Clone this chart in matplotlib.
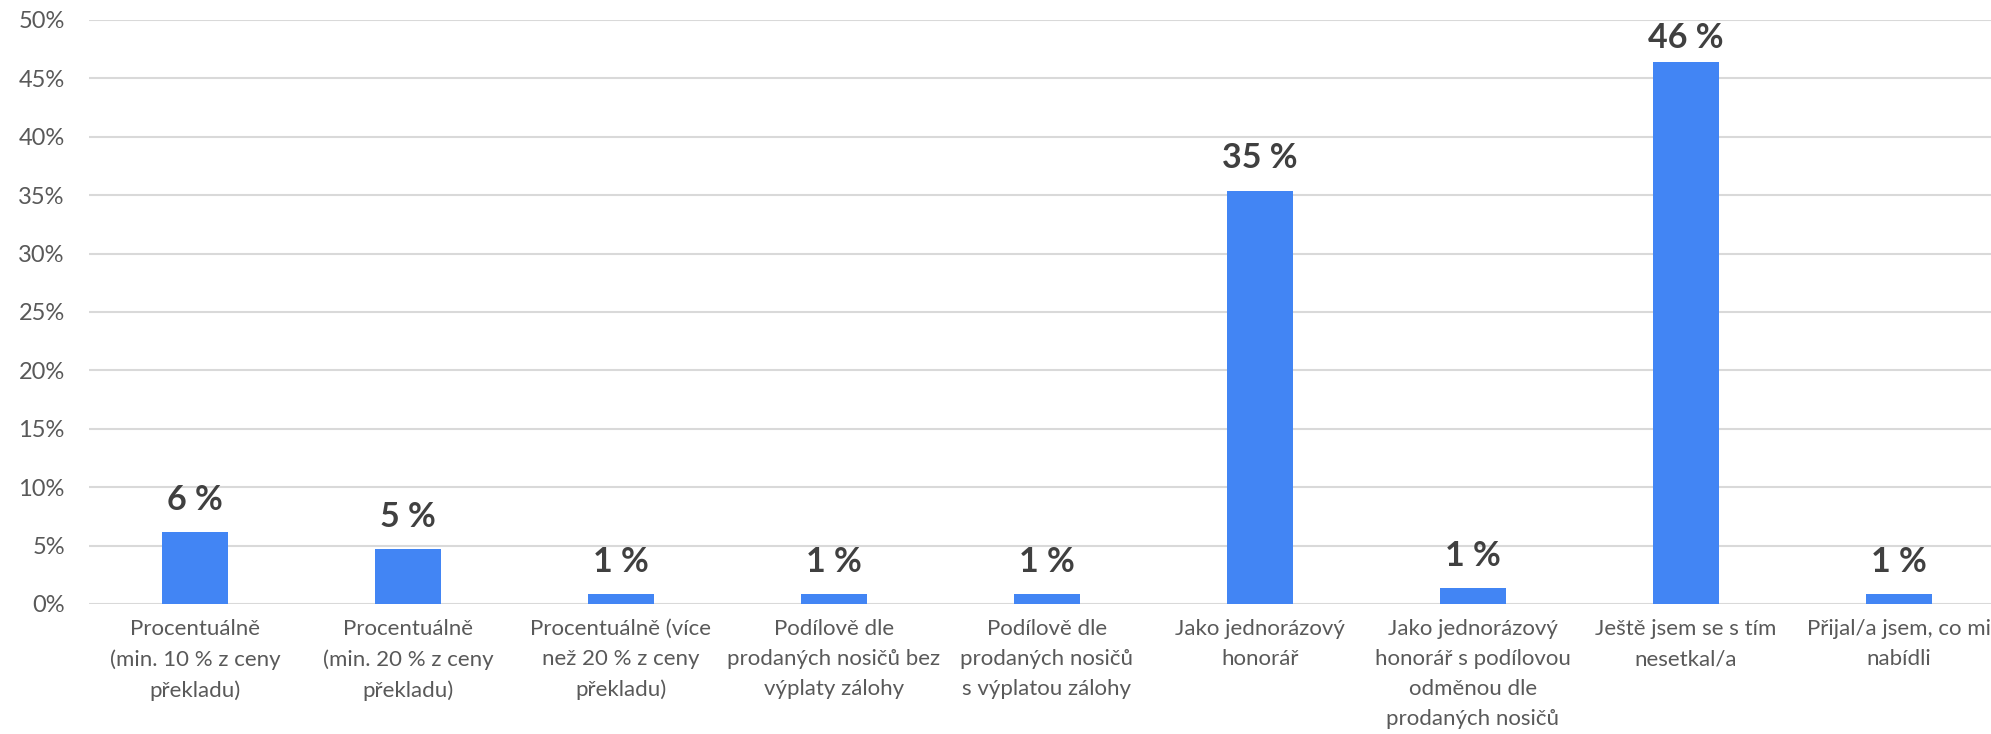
"""Bar chart: podoba odměny za překlad (re-creation)."""

import matplotlib.pyplot as plt
from matplotlib.ticker import PercentFormatter

plt.switch_backend("Agg")

categories = [
    "Procentuálně\n(min. 10 % z ceny\npřekladu)",
    "Procentuálně\n(min. 20 % z ceny\npřekladu)",
    "Procentuálně (více\nnež 20 % z ceny\npřekladu)",
    "Podílově dle\nprodaných nosičů bez\nvýplaty zálohy",
    "Podílově dle\nprodaných nosičů\ns výplatou zálohy",
    "Jako jednorázový\nhonorář",
    "Jako jednorázový\nhonorář s podílovou\nodměnou dle\nprodaných nosičů",
    "Ještě jsem se s tím\nnesetkal/a",
    "Přijal/a jsem, co mi\nnabídli",
]
shares = [0.0614, 0.047, 0.0088, 0.0088, 0.0088, 0.354, 0.0137, 0.464, 0.0086]
y_ticks = [0.0, 0.05, 0.10, 0.15, 0.20, 0.25, 0.30, 0.35, 0.40, 0.45, 0.50]

BAR = "#4285F4"
GRID = "#D9D9D9"
TICK = "#595959"
LABEL = "#404040"

plt.rcParams["font.family"] = ["Lato", "DejaVu Sans"]

fig = plt.figure(figsize=(19.91, 7.34), dpi=100)
# axis runs past the right edge, like the cropped original
ax = fig.add_axes((88.5 / 1991, 130 / 734, 1917 / 1991, 584 / 734))

x = range(len(categories))
bars = ax.bar(x, shares, width=0.31, color=BAR, zorder=3)

YMAX = 0.5
for rect, v in zip(bars, shares):
    # label sits above the bar but is kept inside the plot area
    y_lab = min(v + 0.019, YMAX - 0.024)
    ax.text(
        rect.get_x() + rect.get_width() / 2,
        y_lab,
        f"{round(v * 100):.0f} %",
        ha="center",
        va="baseline",
        fontsize=24.5,
        fontweight="bold",
        color=LABEL,
    )

ax.set_xlim(-0.5, len(categories) - 0.5)
ax.set_ylim(0, YMAX)
ax.set_yticks(y_ticks)
ax.yaxis.set_major_formatter(PercentFormatter(1.0, decimals=0))
ax.set_xticks(list(x))
ax.set_xticklabels(categories, fontsize=16, color=TICK, linespacing=1.62)
ax.tick_params(axis="y", length=0, pad=17, labelsize=17, labelcolor=TICK)
ax.tick_params(axis="x", length=0, pad=11)

ax.grid(axis="y", color=GRID, lw=1.5, zorder=0)
for s in ax.spines.values():
    s.set_visible(False)

fig.savefig("out.png", dpi=100)
